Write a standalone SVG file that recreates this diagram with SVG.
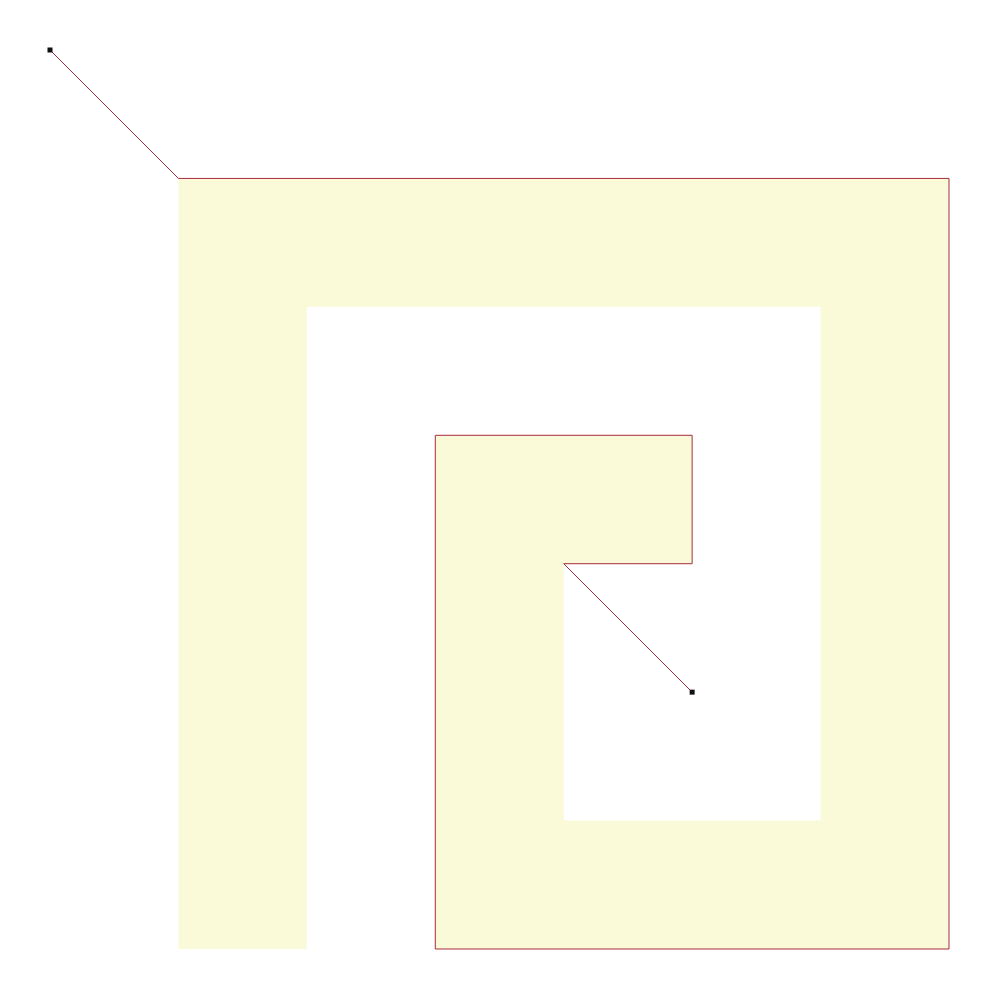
<svg xmlns="http://www.w3.org/2000/svg" width="1000" height="1000" viewBox="0 0 1000 1000">
<style>
.band{fill:none;stroke:#fafad9;stroke-width:128.43;stroke-linejoin:miter;stroke-linecap:butt}
.wire{fill:none;stroke:#a82a3e;stroke-width:1}
.pt{fill:#111111}
</style>
<rect width="1000" height="1000" fill="#ffffff"/>
<g id="spiral">
<path class="band" d="M242.64,949 L242.64,242.64 L884.79,242.64 L884.79,884.79 L499.5,884.79 L499.5,499.5 L692.14,499.5"/>
</g>
<g id="connectors">
<polyline class="wire" points="50,50 178.43,178.43 949,178.43 949,949 435.29,949 435.29,435.29 692.14,435.29 692.14,563.71 563.71,563.71 692.14,692.14"/>
</g>
<g id="start"><rect class="pt" x="47.5" y="47.5" width="5" height="5"/></g>
<g id="end"><rect class="pt" x="689.64" y="689.64" width="5" height="5"/></g>
</svg>
